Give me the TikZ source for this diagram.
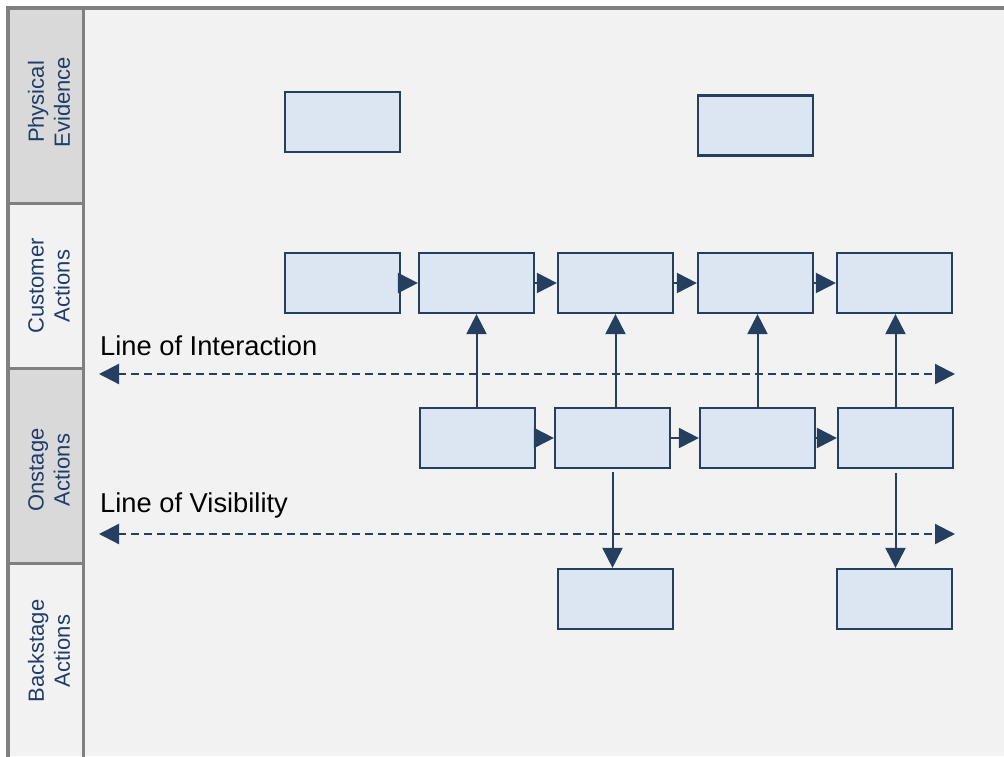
\documentclass[tikz,border=0pt]{standalone}
\usepackage{fontspec}
\setmainfont{Liberation Sans}
\usetikzlibrary{arrows.meta}
\definecolor{bgc}{HTML}{F2F2F2}
\definecolor{cellgray}{HTML}{D9D9D9}
\definecolor{framegray}{HTML}{808080}
\definecolor{boxfill}{HTML}{DCE6F2}
\definecolor{navy}{HTML}{243F60}
\definecolor{lanetext}{HTML}{1F3D6B}
\tikzset{
  stepbox/.style={rectangle, draw=navy, fill=boxfill, line width=2.2pt,
    minimum width=115pt, minimum height=60pt, inner sep=0pt},
  flow/.style={draw=navy, line width=2pt, -{Triangle[length=20pt,width=20pt]}},
  boundary/.style={draw=navy, line width=2.2pt, dash pattern=on 8pt off 5pt,
    {Triangle[length=20pt,width=20pt]}-{Triangle[length=20pt,width=20pt]}},
  lanelabel/.style={rotate=90, align=center, text=lanetext,
    font=\fontsize{22}{26}\selectfont},
  linelabel/.style={anchor=base west, inner sep=0pt,
    font=\fontsize{27.3}{31}\selectfont}
}
\begin{document}
\begin{tikzpicture}[x=1pt,y=-1pt]
\useasboundingbox (0,0) rectangle (1004,756);
\fill[white] (0,0) rectangle (1004,756);
\fill[bgc] (8,8) rectangle (1004,756);
% lane label cells
\fill[cellgray] (8,8) rectangle (83.5,203);
\fill[cellgray] (8,368) rectangle (83.5,563);
\draw[framegray, line width=3pt] (8,203) -- (83.5,203);
\draw[framegray, line width=3pt] (8,368) -- (83.5,368);
\draw[framegray, line width=3pt] (8,563) -- (83.5,563);
\draw[framegray, line width=3.5pt] (1006,8) -- (8,8) -- (8,760);
\draw[framegray, line width=3.5pt] (83.5,8) -- (83.5,760);

\node[lanelabel] (lpe) at (49,102) {Physical\\Evidence};
\node[lanelabel] (lca) at (49,286) {Customer\\Actions};
\node[lanelabel] (loa) at (49,470) {Onstage\\Actions};
\node[lanelabel] (lba) at (49,651) {Backstage\\Actions};

% physical evidence
\node[stepbox] (pe1) at (342.5,122) {};
\node[stepbox] (pe2) at (755.5,125.5) {};
% customer actions
\node[stepbox] (cu1) at (342.5,283) {};
\node[stepbox] (cu2) at (476.5,283) {};
\node[stepbox] (cu3) at (615.5,283) {};
\node[stepbox] (cu4) at (755.5,283) {};
\node[stepbox] (cu5) at (894.5,283) {};
% onstage actions
\node[stepbox] (os1) at (477.5,438) {};
\node[stepbox] (os2) at (612.5,438) {};
\node[stepbox] (os3) at (757.5,438) {};
\node[stepbox] (os4) at (895.5,438) {};
% backstage actions
\node[stepbox] (bs1) at (615.5,599) {};
\node[stepbox] (bs2) at (894.5,599) {};

% lines of interaction and visibility
\coordinate (lil) at (99,374);
\coordinate (lir) at (955,374);
\coordinate (lvl) at (99,534);
\coordinate (lvr) at (955,534);
\draw[boundary] (lil) -- (lir);
\draw[boundary] (lvl) -- (lvr);
\node[linelabel] (tli) at (100,355) {Line of Interaction};
\node[linelabel] (tlv) at (100,512) {Line of Visibility};

% customer flow
\draw[flow] (cu1.east) -- (cu2.west);
\draw[flow] (cu2.east) -- (cu3.west);
\draw[flow] (cu3.east) -- (cu4.west);
\draw[flow] (cu4.east) -- (cu5.west);
% onstage flow
\draw[flow] (os1.east) -- (os2.west);
\draw[flow] (os2.east) -- (os3.west);
\draw[flow] (os3.east) -- (os4.west);
% onstage to customer
\draw[flow] (os1.north -| cu2.south) -- (cu2.south);
\draw[flow] (os2.north -| cu3.south) -- (cu3.south);
\draw[flow] (os3.north) -- (os3.north |- cu4.south);
\draw[flow] (os4.north) -- (os4.north |- cu5.south);
% onstage to backstage
\draw[flow, shorten <=3pt] (os2.south) -- (os2.south |- bs1.north);
\draw[flow, shorten <=4pt] (os4.south) -- (os4.south |- bs2.north);
\end{tikzpicture}
\end{document}
